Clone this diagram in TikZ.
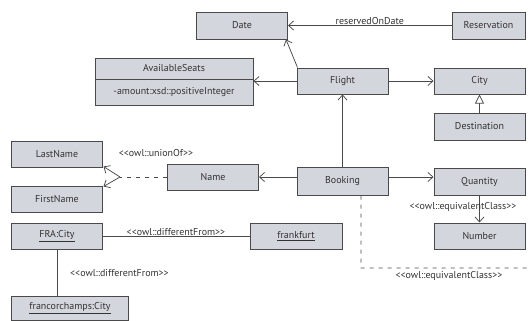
\documentclass[tikz,border=0pt]{standalone}
\usepackage{fontspec}
\setmainfont{PT Sans}
\usetikzlibrary{arrows.meta}
\definecolor{boxfill}{HTML}{D3D6DC}
\definecolor{boxline}{HTML}{4A4A4A}
\definecolor{txt}{HTML}{333333}
\begin{document}
\begin{tikzpicture}[x=1bp,y=-1bp,
  cls/.style={draw=boxline, fill=boxfill, line width=1bp, inner sep=0pt, text=txt,
     font=\fontsize{10}{12}\selectfont, minimum width=91bp, minimum height=27bp},
  lbl/.style={text=txt, font=\fontsize{10}{12}\selectfont, inner sep=1bp},
  conn/.style={draw=boxline, line width=0.75bp},
  barb/.style={conn, -{Straight Barb[length=5bp,width=9bp]}},
  gen/.style={conn, -{Triangle[open, length=9bp, width=9bp, fill=white]}},
  dsh/.style={conn, dash pattern=on 4bp off 5bp}]
\useasboundingbox (0,0) rectangle (529,320);
% classes
\node[cls] (date) at (242,25.5) {Date};
\node[cls, minimum width=73bp] (res) at (488.5,25.5) {Reservation};
\node[cls, minimum width=158bp, minimum height=21bp] (avT) at (174,68.5) {AvailableSeats};
\node[cls, minimum width=158bp, minimum height=26bp] (avB) at (174,92) {-amount:xsd::positiveInteger};
\node[cls, minimum height=26bp] (flight) at (342.5,81) {Flight};
\node[cls, minimum height=26bp] (city) at (479.5,81) {City};
\node[cls] (dest) at (479.5,126.5) {Destination};
\node[cls, minimum height=28bp] (booking) at (342.5,181) {Booking};
\node[cls] (qty) at (479.5,181.5) {Quantity};
\node[cls, minimum height=26bp] (number) at (479.5,236) {Number};
\node[cls, minimum height=26bp] (name) at (213,177) {Name};
\node[cls, minimum width=90bp, minimum height=26bp] (last) at (57,154) {LastName};
\node[cls, minimum width=90bp, minimum height=26bp] (first) at (57,199) {FirstName};
\node[cls, minimum width=90bp, minimum height=26bp] (fra) at (57,236) {\underline{FRA:City}};
\node[cls, minimum width=92bp, minimum height=26bp] (frank) at (296,236) {\underline{frankfurt}};
\node[cls, minimum width=116bp, minimum height=24bp] (franc) at (70,308) {\underline{francorchamps:City}};
% connectors
\draw[barb] (res.west) -- node[lbl, above, pos=0.5, yshift=-0.5bp] (rlbl) {reservedOnDate} (date.east);
\draw[barb] ([xshift=1bp]flight.north west) -- ([xshift=-2bp]date.south east);
\draw[barb] (flight.west) -- (flight.west -| avT.east);
\draw[barb] (flight.east) -- (city.west);
\draw[gen] (dest.north) -- (city.south);
\draw[barb] (booking.north) -- (flight.south);
\draw[barb] ([yshift=4bp]booking.east) -- ([yshift=4bp]booking.east -| qty.west);
\draw[barb] (booking.west |- name.east) -- (name.east);
\draw[barb] (qty.south) -- (number.north);
\node[lbl] (eq1) at (463,207) {<{}<owl::equivalentClass>{}>};
% union
\coordinate (j) at (120,177);
\draw[dsh] (name.west) -- (j);
\draw[barb] (j) -- ([xshift=1bp,yshift=1bp]last.south east);
\draw[barb] (j) -- ([xshift=1bp,yshift=-1bp]first.north east);
\node[lbl] (ulbl) at (156,153) {<{}<owl::unionOf>{}>};
% bottom dashed
\coordinate (bd1) at (361,268);
\coordinate (bd2) at (529,268);
\draw[dsh] ([xshift=18.5bp]booking.south) -- (bd1) -- (bd2);
\node[lbl] (eq2) at (449,276) {<{}<owl::equivalentClass>{}>};
% differentFrom
\draw[conn] (fra.east) -- node[lbl, above, yshift=-0.5bp] (d1) {<{}<owl::differentFrom>{}>} (frank.west);
\draw[conn] (fra.south) -- (franc.north -| fra.south);
\node[lbl, anchor=west] (d2) at (69,273) {<{}<owl::differentFrom>{}>};
\end{tikzpicture}
\end{document}
